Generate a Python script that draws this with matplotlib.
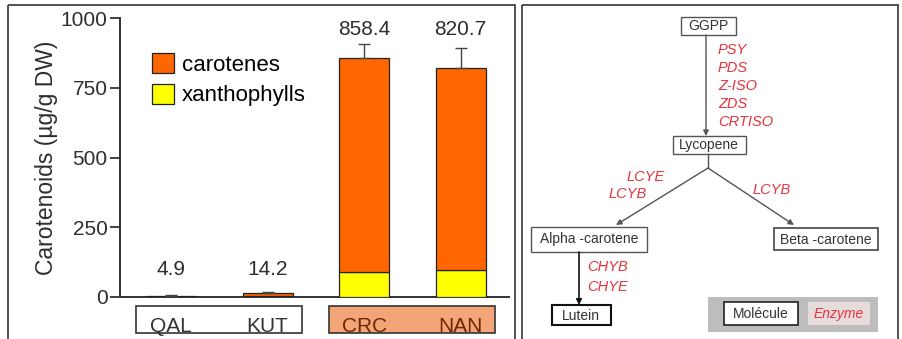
import matplotlib
matplotlib.use("Agg")
import matplotlib.pyplot as plt
import numpy as np
from matplotlib.patches import Rectangle

plt.rcParams['font.family'] = ['Liberation Sans', 'DejaVu Sans']

# ---- bar chart data ----
cultivars = ["QAL", "KUT", "CRC", "NAN"]
totals = np.array([4.9, 14.2, 858.4, 820.7])
xanthophylls = np.array([1.5, 3.5, 88.0, 98.0])
carotenes = totals - xanthophylls
errors = np.array([0.8, 3.0, 48.0, 72.0])
yticks = [0, 250, 500, 750, 1000]
groups = [(0, 1, "white", "#333333"), (2, 3, "#F2A577", "#6E2600")]

ORANGE = "#FF6600"
YELLOW = "#FFFF00"
DARK = "#2E2E2E"
RED = "#E8323C"

W, H = 902, 339
fig = plt.figure(figsize=(W / 100, H / 100), dpi=100)

# full-figure overlay in pixel coordinates for frames and the pathway
ov = fig.add_axes([0, 0, 1, 1], zorder=0)
ov.set_xlim(0, W)
ov.set_ylim(H, 0)
ov.axis("off")

ax = fig.add_axes([120 / W, 1 - 297 / H, (509 - 120) / W, (297 - 18) / H], zorder=2)
ax.patch.set_alpha(0)

x = np.arange(len(cultivars))
bw = 0.52
ax.bar(x, xanthophylls, bw, color=YELLOW, edgecolor="#222222", linewidth=0.9,
       label="xanthophylls", zorder=3)
ax.bar(x, carotenes, bw, bottom=xanthophylls, color=ORANGE, edgecolor="#222222",
       linewidth=0.9, label="carotenes", zorder=3)
ax.errorbar(x, totals, yerr=[np.zeros_like(errors), errors], fmt="none",
            ecolor="#444444", elinewidth=1.0, capsize=4, capthick=1.0, zorder=4)

label_y = np.where(totals > 500, 960, 100)
for xi, tot, ly in zip(x, totals, label_y):
    ax.text(xi, ly, f"{tot:.1f}", ha="center", va="center", fontsize=15, color=DARK)

ax.set_xlim(-0.53, 3.5)
ax.set_ylim(0, 1000)
ax.set_yticks(yticks)
ax.set_yticklabels([str(t) for t in yticks], fontsize=15, color=DARK)
ax.set_xticks([])
for s in ["top", "right"]:
    ax.spines[s].set_visible(False)
for s in ["left", "bottom"]:
    ax.spines[s].set_color("#333333")
    ax.spines[s].set_linewidth(1.4)
ax.tick_params(axis="y", length=7, width=1.3, color="#333333", pad=2)
ax.set_ylabel("Carotenoids (µg/g DW)", fontsize=16.5, color=DARK, labelpad=2)

handles, labels = ax.get_legend_handles_labels()
ax.legend(handles[::-1], labels[::-1], loc="upper left", bbox_to_anchor=(0.06, 0.905),
          frameon=False, fontsize=16, handlelength=1.0, handleheight=1.0,
          handletextpad=0.35, labelspacing=0.35, borderaxespad=0)
for h in ax.get_legend().legend_handles:
    h.set_edgecolor("#222222")

# cultivar group boxes below the axis
tr = ax.get_xaxis_transform()
for a, b, fc, tc in groups:
    ax.add_patch(Rectangle((a - 0.36, -0.129), (b - a) + 0.72, 0.097, transform=tr,
                           facecolor=fc, edgecolor="#333333", linewidth=1.2,
                           clip_on=False, zorder=1))
    for i in (a, b):
        ax.text(i, -0.127, cultivars[i], transform=tr, ha="center", va="baseline",
                fontsize=15, color=tc, clip_on=False, zorder=2)

# panel frames
ov.add_patch(Rectangle((8, 5), 507, 345, fill=False, edgecolor="#444444", linewidth=1.3))
ov.add_patch(Rectangle((522, 5), 376, 345, fill=False, edgecolor="#444444", linewidth=1.3))

# ---- carotenoid pathway ----
nodes = {
    "GGPP": (708, 26, 55, 18, "#555555", 1.0),
    "Lycopene": (709, 145, 73, 18, "#555555", 1.0),
    "Alpha -carotene": (589, 239, 116, 25, "#555555", 1.0),
    "Beta -carotene": (826, 239, 104, 22, "#444444", 1.2),
    "Lutein": (581, 315, 59, 20, "#111111", 1.5),
}
for name, (cx, cy, bwid, bht, ec, lw) in nodes.items():
    ov.add_patch(Rectangle((cx - bwid / 2, cy - bht / 2), bwid, bht, facecolor="white",
                           edgecolor=ec, linewidth=lw))
    ov.text(cx, cy + 0.5, name, ha="center", va="center", fontsize=10, color="#333333")

arrow = dict(arrowstyle="-|>", color="#555555", lw=1.0, mutation_scale=8,
             shrinkA=0, shrinkB=0)
ov.annotate("", xy=(706, 136), xytext=(706, 35), arrowprops=arrow)
ov.plot([708, 708], [154, 168], color="#555555", lw=1.0)
ov.annotate("", xy=(616, 225), xytext=(708, 168), arrowprops=arrow)
ov.annotate("", xy=(794, 225), xytext=(708, 168), arrowprops=arrow)
ov.annotate("", xy=(579, 305), xytext=(579, 252),
            arrowprops=dict(arrow, color="#111111", lw=1.2))

ENZ = dict(fontsize=10.5, style="italic", color=RED, va="center")
enz_main = ["PSY", "PDS", "Z-ISO", "ZDS", "CRTISO"]
for i, e in enumerate(enz_main):
    ov.text(718, 50 + i * 18, e, ha="left", **ENZ)
ov.text(665, 177, "LCYE", ha="right", **ENZ)
ov.text(647, 194, "LCYB", ha="right", **ENZ)
ov.text(753, 190, "LCYB", ha="left", **ENZ)
ov.text(587, 267, "CHYB", ha="left", **ENZ)
ov.text(587, 287, "CHYE", ha="left", **ENZ)

# key
ov.add_patch(Rectangle((708, 297), 170, 35, facecolor="#BDBDBD", edgecolor="none"))
ov.add_patch(Rectangle((724, 302), 74, 23, facecolor="white", edgecolor="#222222",
                       linewidth=1.2))
ov.text(761, 314, "Molécule", ha="center", va="center", fontsize=10, color="#333333")
ov.add_patch(Rectangle((808, 302), 62, 23, facecolor="#E6DCDC", edgecolor="none"))
ov.text(839, 314, "Enzyme", ha="center", va="center", fontsize=10, style="italic",
        color=RED)

fig.savefig("out.png", dpi=100)
